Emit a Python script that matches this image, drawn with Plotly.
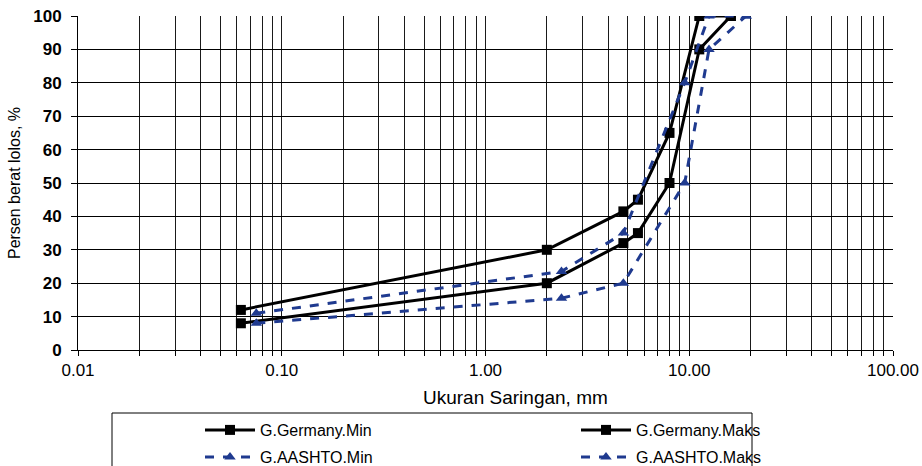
import plotly.graph_objects as go

# Sieve sizes (mm) and percent passing for each gradation envelope
germany_sizes = [0.063, 2.0, 4.75, 5.6, 8.0, 11.2, 16.0]
germany_min = [8, 20, 32, 35, 50, 90, 100]
germany_maks = [12, 30, 41.5, 45, 65, 100, 100]

aashto_sizes = [0.075, 2.36, 4.75, 9.5, 12.5, 19.0]
aashto_min = [8, 15.5, 20, 50, 90, 100]
aashto_maks = [11, 23.5, 35, 80, 100, 100]

x_tick_vals = [0.01, 0.1, 1, 10, 100]
x_tick_text = ["0.01", "0.10", "1.00", "10.00", "100.00"]

BLUE = "#1f3a8f"
BLACK = "#000000"
SANS = "Liberation Sans, Arial"

# plot area in pixels (used to place legends, the x title and the legend frame)
PX_L, PX_R, PX_T, PX_B = 78, 893, 16, 350


def px_to_paper_x(px):
    return (px - PX_L) / (PX_R - PX_L)


def px_to_paper_y(py):
    return (PX_B - py) / (PX_B - PX_T)


# grid positions: 1..9 within each decade
grid_vals = []
for dec in [0.01, 0.1, 1, 10]:
    for m in range(1, 10):
        grid_vals.append(round(dec * m, 4))
grid_vals.append(100)
grid_text = [x_tick_text[x_tick_vals.index(v)] if v in x_tick_vals else "" for v in grid_vals]

fig = go.Figure()

fig.add_trace(go.Scatter(
    x=germany_sizes, y=germany_min, name="G.Germany.Min", mode="lines+markers",
    line=dict(color=BLACK, width=3),
    marker=dict(symbol="square", size=10, color=BLACK),
    legend="legend", showlegend=True,
))
fig.add_trace(go.Scatter(
    x=germany_sizes, y=germany_maks, name="G.Germany.Maks", mode="lines+markers",
    line=dict(color=BLACK, width=3),
    marker=dict(symbol="square", size=10, color=BLACK),
    legend="legend2", showlegend=True,
))
fig.add_trace(go.Scatter(
    x=aashto_sizes, y=aashto_min, name="G.AASHTO.Min", mode="lines+markers",
    line=dict(color=BLUE, width=3, dash="dash"),
    marker=dict(symbol="triangle-up", size=10, color=BLUE),
    legend="legend3", showlegend=True,
))
fig.add_trace(go.Scatter(
    x=aashto_sizes, y=aashto_maks, name="G.AASHTO.Maks", mode="lines+markers",
    line=dict(color=BLUE, width=3, dash="dash"),
    marker=dict(symbol="triangle-up", size=10, color=BLUE),
    legend="legend4", showlegend=True,
))


def legend_at(px_x, px_y):
    return dict(
        orientation="h",
        xanchor="left", yanchor="middle",
        x=px_to_paper_x(px_x), y=px_to_paper_y(px_y),
        itemwidth=50,
        font=dict(family=SANS, size=16, color=BLACK),
        bgcolor="rgba(0,0,0,0)",
        borderwidth=0,
        itemclick=False, itemdoubleclick=False,
    )


fig.update_layout(
    width=922, height=466,
    margin=dict(l=PX_L, r=922 - PX_R, t=PX_T, b=466 - PX_B, autoexpand=False),
    paper_bgcolor="white", plot_bgcolor="white",
    font=dict(family=SANS, color=BLACK),
    showlegend=True,
    legend=legend_at(200, 430),
    legend2=legend_at(576, 430),
    legend3=legend_at(200, 457),
    legend4=legend_at(576, 457),
    xaxis=dict(
        type="log", range=[-2, 2],
        tickmode="array", tickvals=grid_vals, ticktext=grid_text,
        showgrid=True, gridcolor="#1a1a1a", gridwidth=1.2,
        ticks="outside", ticklen=5, tickcolor=BLACK,
        showline=True, linecolor=BLACK, linewidth=1,
        zeroline=False,
        tickfont=dict(family=SANS, size=17, color=BLACK),
    ),
    yaxis=dict(
        range=[0, 100], dtick=10, tick0=0,
        showgrid=True, gridcolor=BLACK, gridwidth=1,
        ticks="outside", ticklen=6, tickcolor=BLACK,
        ticklabelstandoff=6,
        showline=True, linecolor=BLACK, linewidth=1,
        zeroline=False,
        tickfont=dict(family="Liberation Sans", size=17, color=BLACK, weight="bold"),
        title=dict(text="Persen berat lolos, %", standoff=8,
                   font=dict(family=SANS, size=16, color=BLACK)),
    ),
    annotations=[dict(
        text="Ukuran Saringan, mm", xref="paper", yref="paper",
        x=px_to_paper_x(515), y=px_to_paper_y(397),
        xanchor="center", yanchor="middle", showarrow=False,
        font=dict(family=SANS, size=19, color=BLACK),
    )],
    shapes=[dict(
        type="rect", xref="paper", yref="paper",
        x0=px_to_paper_x(112), x1=px_to_paper_x(752),
        y0=px_to_paper_y(413), y1=px_to_paper_y(475),
        line=dict(color=BLACK, width=1), fillcolor="rgba(0,0,0,0)",
        layer="above",
    )],
)

fig.write_html("out.html")
